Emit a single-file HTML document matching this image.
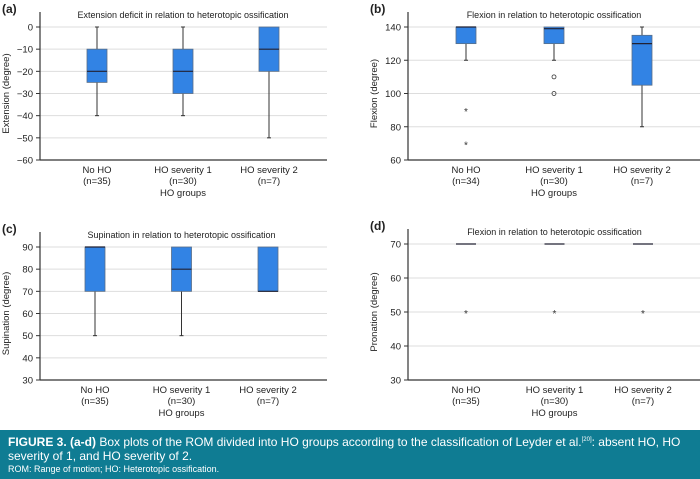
<!DOCTYPE html>
<html><head><meta charset="utf-8"><style>
body{margin:0;background:#fff;width:700px;height:479px;overflow:hidden;font-family:"Liberation Sans",sans-serif}
#cap{position:absolute;left:0;top:430px;width:700px;height:49px;background:#0f7c93;color:#fff;box-sizing:border-box;padding:3px 8px}
#cap .l{font-size:12px;line-height:14px}
#cap .s{font-size:9px;line-height:13px}
</style></head><body>
<svg id="chart" width="700" height="430" style="position:absolute;left:0;top:0" font-family="Liberation Sans, sans-serif"></svg>
<div id="cap">
<div class="l"><b>FIGURE 3. (a-d)</b> Box plots of the ROM divided into HO groups according to the classification of Leyder et al.<sup style="font-size:6px">[20]</sup>: absent HO, HO severity of 1, and HO severity of 2.</div>
<div class="s">ROM: Range of motion; HO: Heterotopic ossification.</div>
</div>
<script>
const categoriesA = ["No HO","HO severity 1","HO severity 2"];
const countsA = ["(n=35)","(n=30)","(n=7)"];
const countsB = ["(n=34)","(n=30)","(n=7)"];
const countsC = ["(n=35)","(n=30)","(n=7)"];
const countsD = ["(n=35)","(n=30)","(n=7)"];
// [whiskerLow, q1, median, q3, whiskerHigh]
const boxesA = [[-40,-25,-20,-10,0],[-40,-30,-20,-10,0],[-50,-20,-10,0,0]];
const boxesB = [[120,130,140,140,140],[120,130,139,140,140],[80,105,130,135,140]];
const boxesC = [[50,70,90,90,90],[50,70,80,90,90],[70,70,70,90,90]];
const boxesD = [[70,70,70,70,70],[70,70,70,70,70],[70,70,70,70,70]];
const outliersB = [[[90,"*"],[70,"*"]],[[110,"o"],[100,"o"]],[]];
const outliersD = [[[50,"*"]],[[50,"*"]],[[50,"*"]]];
const ticksA=[0,-10,-20,-30,-40,-50,-60];
const ticksB=[140,120,100,80,60];
const ticksC=[90,80,70,60,50,40,30];
const ticksD=[70,60,50,40,30];

const svg=document.getElementById('chart');
const NS="http://www.w3.org/2000/svg";
function el(t,a,txt){const e=document.createElementNS(NS,t);for(const k in a)e.setAttribute(k,a[k]);if(txt!=null)e.textContent=txt;svg.appendChild(e);return e;}

function panel(o){
  const y=v=>o.yTop+(o.max-v)/(o.max-o.min)*(o.yBot-o.yTop);
  const xc=i=>o.ax+o.off+i*o.step;
  const lab=el('text',{x:o.ax-40+2,y:o.yTop-14,'font-size':12,'font-weight':'bold',fill:'#222'},o.label);
  
  
  o.ticks.forEach(t=>{
    const g=el('line',{x1:o.ax,x2:o.right,y1:y(t),y2:y(t),stroke:'#ddd','stroke-width':1});
    
    
    el('line',{x1:o.ax-4,x2:o.ax,y1:y(t),y2:y(t),stroke:'#333'});
    const tl=el('text',{x:o.ax-7,y:y(t)+3.5,'font-size':9.5,'text-anchor':'end',fill:'#222'},t===0?'0':(t<0?'\u2212'+(-t):t));
    
    
  });
  el('line',{x1:o.ax,x2:o.ax,y1:o.yTop-15,y2:o.yBot,stroke:'#333','stroke-width':1.2});
  el('line',{x1:o.ax,x2:o.right,y1:o.yBot,y2:o.yBot,stroke:'#333','stroke-width':1.2});
  const ti=el('text',{x:xc(1),y:o.yTop-9,'font-size':9,'text-anchor':'middle',fill:'#222'},o.title);
  
  
  const yt=el('text',{transform:`translate(${o.ax-31},${(o.yTop+o.yBot)/2}) rotate(-90)`,'font-size':9.5,'text-anchor':'middle',fill:'#222'},o.ytitle);
  
  
  o.boxes.forEach((b,i)=>{
    const cx=xc(i);
    if(b[0]<b[1]){el('line',{x1:cx,x2:cx,y1:y(b[0]),y2:y(b[1]),stroke:'#333'});el('line',{x1:cx-2,x2:cx+2,y1:y(b[0]),y2:y(b[0]),stroke:'#333'});}
    if(b[4]>b[3]){el('line',{x1:cx,x2:cx,y1:y(b[4]),y2:y(b[3]),stroke:'#333'});el('line',{x1:cx-2,x2:cx+2,y1:y(b[4]),y2:y(b[4]),stroke:'#333'});}
    if(b[3]>b[1]){
      const r=el('rect',{x:cx-10,y:y(b[3]),width:20,height:y(b[1])-y(b[3]),fill:'#3283e4',stroke:'#5a6f88','stroke-width':0.8});
      
      
    }
    el('line',{x1:cx-10,x2:cx+10,y1:y(b[2]),y2:y(b[2]),stroke:'#223','stroke-width':1.2});
    (o.outliers?o.outliers[i]:[]).forEach(p=>{
      if(p[1]==='o'){const c=el('circle',{cx:cx,cy:y(p[0]),r:2,fill:'none',stroke:'#333','stroke-width':0.8});}
      else{const s=el('text',{x:cx,y:y(p[0])+5,'font-size':10,'text-anchor':'middle',fill:'#333'},'*');}
    });
    const c1=el('text',{x:cx,y:o.yBot+13,'font-size':9.5,'text-anchor':'middle',fill:'#222'},categoriesA[i]);
    
    
    el('text',{x:cx,y:o.yBot+24,'font-size':9.5,'text-anchor':'middle',fill:'#222'},o.counts[i]);
  });
  const xt=el('text',{x:xc(1),y:o.yBot+36,'font-size':9.5,'text-anchor':'middle',fill:'#222'},'HO groups');
  
  
}
panel({label:'(a)',ax:40,right:327,yTop:27,yBot:160,max:0,min:-60,ticks:ticksA,boxes:boxesA,counts:countsA,off:57,step:86,title:'Extension deficit in relation to heterotopic ossification',ytitle:'Extension (degree)'});
panel({label:'(b)',ax:408,right:700,yTop:27,yBot:160,max:140,min:60,ticks:ticksB,boxes:boxesB,outliers:outliersB,counts:countsB,off:58,step:88,title:'Flexion in relation to heterotopic ossification',ytitle:'Flexion (degree)'});
panel({label:'(c)',ax:40,right:327,yTop:247,yBot:380,max:90,min:30,ticks:ticksC,boxes:boxesC,counts:countsC,off:55,step:86.5,title:'Supination in relation to heterotopic ossification',ytitle:'Supination (degree)'});
panel({label:'(d)',ax:408,right:700,yTop:244,yBot:380,max:70,min:30,ticks:ticksD,boxes:boxesD,outliers:outliersD,counts:countsD,off:58,step:88.5,title:'Flexion in relation to heterotopic ossification',ytitle:'Pronation (degree)'});
</script>
</body></html>
